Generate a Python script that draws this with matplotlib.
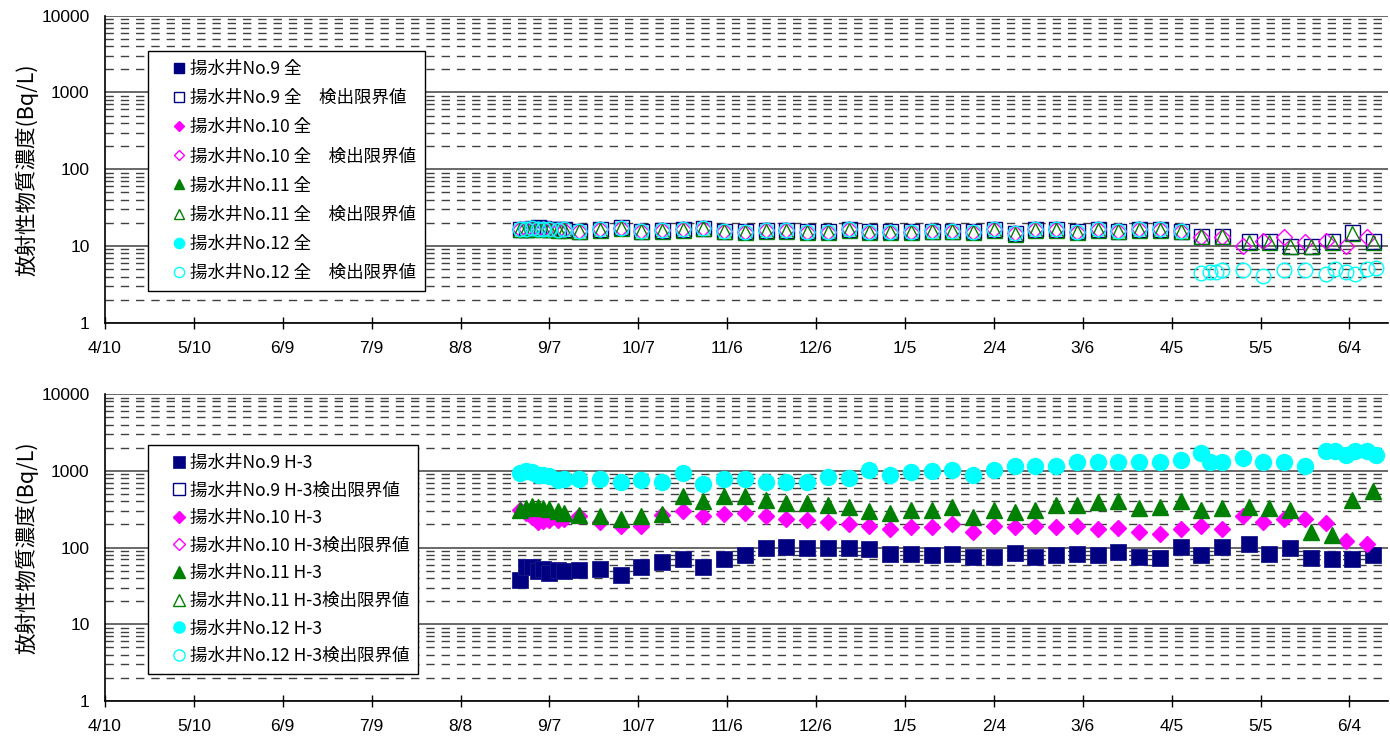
import pandas as pd
import matplotlib.pyplot as plt
from matplotlib.ticker import NullFormatter

plt.rcParams['font.family'] = ['Liberation Sans', 'Noto Sans CJK JP']

# sampling dates shared by all wells up to 4/22
main_dates = ['2013-08-28', '2013-08-30', '2013-09-01', '2013-09-03', '2013-09-05', '2013-09-07',
              '2013-09-10', '2013-09-12', '2013-09-17', '2013-09-24', '2013-10-01', '2013-10-08',
              '2013-10-15', '2013-10-22', '2013-10-29', '2013-11-05', '2013-11-12', '2013-11-19',
              '2013-11-26', '2013-12-03', '2013-12-10', '2013-12-17', '2013-12-24', '2013-12-31',
              '2014-01-07', '2014-01-14', '2014-01-21', '2014-01-28', '2014-02-04', '2014-02-11',
              '2014-02-18', '2014-02-25', '2014-03-04', '2014-03-11', '2014-03-18', '2014-03-25',
              '2014-04-01', '2014-04-08', '2014-04-15', '2014-04-22']
late_dates_9_11 = ['2014-05-01', '2014-05-08', '2014-05-15', '2014-05-22', '2014-05-29', '2014-06-05', '2014-06-12']
late_dates_10 = ['2014-04-29', '2014-05-06', '2014-05-13', '2014-05-20', '2014-05-27', '2014-06-03', '2014-06-10']
late_dates_12_h3 = ['2014-04-18', '2014-04-29', '2014-05-06', '2014-05-13', '2014-05-20', '2014-05-27',
                    '2014-05-30', '2014-06-03', '2014-06-06', '2014-06-10', '2014-06-13']
late_dates_12_gross = ['2014-04-18', '2014-04-20', '2014-04-29', '2014-05-06', '2014-05-13', '2014-05-20',
                       '2014-05-27', '2014-05-30', '2014-06-03', '2014-06-06', '2014-06-10', '2014-06-13']

# 全ベータ 検出限界値 (Bq/L)
no9_gross_dl = [16.8, 16.6, 17.2, 17.5, 17.0, 16.6, 16.6, 16.4,
                15.9, 16.6, 17.8, 15.9, 16.1, 16.6, 17.2, 15.9, 15.6, 16.1, 16.1, 15.6, 15.6, 16.6, 15.6,
                15.6, 15.6, 15.9, 15.9, 15.6, 16.6, 14.8, 16.6, 16.6, 15.6, 16.6, 15.9, 16.6, 16.6, 15.9,
                13.5, 13.5]
no9_gross_dl_late = [11.7, 11.7, 10.0, 10.0, 11.7, 15.0, 11.7]
no10_gross_dl = [16.4, 16.4, 16.6, 16.6, 16.4, 16.4, 16.1, 16.1,
                 15.7, 16.4, 17.2, 15.7, 16.0, 16.4, 16.9, 15.7, 15.4, 16.0, 16.0, 15.4, 15.4, 16.4, 15.4,
                 15.4, 15.4, 15.7, 15.7, 15.4, 16.4, 14.6, 16.4, 16.4, 15.4, 16.4, 15.7, 16.4, 16.4, 15.7,
                 13.2, 13.2]
no10_gross_dl_late = [10.0, 11.7, 12.9, 11.1, 11.7, 10.0, 12.9]
no11_gross_dl = [16.5, 16.4, 16.8, 17.0, 16.7, 16.4, 16.3, 16.2,
                 15.6, 16.3, 17.4, 15.6, 15.9, 16.3, 16.9, 15.6, 15.3, 15.9, 15.9, 15.3, 15.3, 16.3, 15.3,
                 15.3, 15.3, 15.6, 15.6, 15.3, 16.3, 14.5, 16.3, 16.3, 15.3, 16.3, 15.6, 16.3, 16.3, 15.6,
                 13.3, 13.3]
no11_gross_dl_late = [11.4, 11.4, 9.9, 9.9, 11.4, 14.7, 11.4]
no12_gross_dl = [16.6, 16.6, 16.9, 16.6, 16.4, 16.6, 16.1, 16.4,
                 15.7, 16.6, 17.4, 15.7, 16.1, 16.6, 16.9, 15.7, 15.4, 16.1, 16.1, 15.4, 15.4, 16.6, 15.4,
                 15.4, 15.4, 15.7, 15.7, 15.4, 16.6, 14.6, 16.6, 16.6, 15.4, 16.6, 15.7, 16.6, 16.6, 15.7,
                 4.49, 4.8]
no12_gross_dl_late = [4.6, 4.6, 4.8, 4.05, 4.8, 4.8, 4.35, 4.96, 4.6, 4.26, 4.96, 5.1]

# H-3 (Bq/L)
no9_h3 = [38, 56, 55, 50, 52, 47, 51, 49,
          50.7, 52, 44.5, 56, 64, 70, 56, 70, 80, 97.5, 100.6, 100, 97.5, 97.5, 94.5, 82,
          82, 80, 82, 75.7, 74.5, 85.5, 75.7, 80, 82, 80, 88, 74.5, 72, 102, 80, 102]
no9_h3_late = [111, 82, 97.5, 72, 70, 70, 80]
no10_h3 = [310, 280, 250, 218, 222, 228, 229, 232,
           255, 218, 190, 190, 267, 295, 260, 275, 280, 254, 235, 226, 212, 203, 190, 172,
           187, 187, 203, 161, 190, 184, 190, 184, 190, 172, 178, 161, 150, 172, 190, 172]
no10_h3_late = [254, 218, 235, 235, 207, 123, 111]
no11_h3 = [310, 327, 345, 335, 327, 320, 300, 281,
           267, 254, 236, 254, 275, 473, 407, 473, 464, 420, 380, 380, 361, 337, 295, 281,
           304, 304, 337, 249, 304, 286, 304, 361, 361, 387, 399, 327, 337, 399, 304, 327]
no11_h3_late = [337, 327, 310, 158, 146, 411, 539]
no12_h3 = [940, 986, 960, 893, 893, 850, 768, 790,
           784, 784, 707, 768, 707, 940, 681, 784, 784, 707, 707, 707, 834, 809, 1038, 893,
           957, 986, 1038, 893, 1022, 1147, 1147, 1147, 1295, 1295, 1295, 1295, 1295, 1374, 1718, 1295]
no12_h3_late = [1295, 1480, 1295, 1295, 1147, 1806, 1806, 1586, 1806, 1806, 1586]

gross_labels = ['揚水井No.9 全', '揚水井No.9 全　検出限界値', '揚水井No.10 全', '揚水井No.10 全　検出限界値',
                '揚水井No.11 全', '揚水井No.11 全　検出限界値', '揚水井No.12 全', '揚水井No.12 全　検出限界値']
h3_labels = ['揚水井No.9 H-3', '揚水井No.9 H-3検出限界値', '揚水井No.10 H-3', '揚水井No.10 H-3検出限界値',
             '揚水井No.11 H-3', '揚水井No.11 H-3検出限界値', '揚水井No.12 H-3', '揚水井No.12 H-3検出限界値']

tick_dates = ['2013-04-10', '2013-05-10', '2013-06-09', '2013-07-09', '2013-08-08', '2013-09-07',
              '2013-10-07', '2013-11-06', '2013-12-06', '2014-01-05', '2014-02-04', '2014-03-06',
              '2014-04-05', '2014-05-05', '2014-06-04']
tick_labels = ['4/10', '5/10', '6/9', '7/9', '8/8', '9/7', '10/7', '11/6', '12/6',
               '1/5', '2/4', '3/6', '4/5', '5/5', '6/4']
y_ticks = [1, 10, 100, 1000, 10000]
y_labels = ['1', '10', '100', '1000', '10000']

colors = ['#000080', '#FF00FF', '#008000', '#00FFFF']

cjk = ['Noto Sans CJK JP', 'DejaVu Sans']


def d(lst):
    return pd.to_datetime(lst)


def style_axis(ax):
    ax.set_yscale('log')
    ax.set_ylim(1, 10000)
    ax.set_xlim(pd.Timestamp('2013-04-10'), pd.Timestamp('2014-06-17'))
    ax.set_yticks(y_ticks)
    ax.set_yticklabels(y_labels)
    minor = [m * 10 ** e for e in range(4) for m in range(2, 10)]
    ax.set_yticks(minor, minor=True)
    ax.yaxis.set_minor_formatter(NullFormatter())
    ax.grid(axis='y', which='major', color='#404040', lw=1.1, ls='-')
    ax.grid(axis='y', which='minor', color='#404040', lw=1.0, ls=(0, (6, 5)))
    ax.set_axisbelow(True)
    ax.tick_params(axis='y', which='both', length=0, pad=11, labelsize=12.5)
    ax.set_xticks(d(tick_dates))
    ax.set_xticklabels(tick_labels)
    ax.tick_params(axis='x', direction='inout', length=8, width=1, pad=9, labelsize=12.5)
    for s in ['top', 'right']:
        ax.spines[s].set_visible(False)
    for s in ['left', 'bottom']:
        ax.spines[s].set_linewidth(1.2)
    ax.set_ylabel('放射性物質濃度(Bq/L)', fontfamily=cjk, fontsize=15.5)
    ax.yaxis.set_label_coords(-0.052, 0.5)


def add_legend(ax, y, spacing):
    leg = ax.legend(loc='upper left', bbox_to_anchor=(0.0335, y), borderaxespad=0,
                    prop={'family': cjk, 'size': 12.6}, frameon=True, fancybox=False,
                    edgecolor='black', framealpha=1, borderpad=0.5, handlelength=2.5,
                    handletextpad=-0.6, labelspacing=spacing, markerscale=0.7, numpoints=1)
    leg.get_frame().set_linewidth(1.0)


fig = plt.figure(figsize=(13.9, 7.37), dpi=100)
ax1 = fig.add_axes([0.0755, 0.5621, 0.923, 0.4166])
ax2 = fig.add_axes([0.0755, 0.0488, 0.923, 0.4166])

# top: gross beta (only detection limits are plotted)
ax1.plot([], [], ls='none', marker='s', ms=10.8, color=colors[0], label=gross_labels[0])
ax1.plot(d(main_dates + late_dates_9_11), no9_gross_dl + no9_gross_dl_late, ls='none', marker='s',
         ms=10.8, mfc='none', mec=colors[0], mew=1, label=gross_labels[1])
ax1.plot([], [], ls='none', marker='D', ms=7.8, color=colors[1], label=gross_labels[2])
ax1.plot(d(main_dates + late_dates_10), no10_gross_dl + no10_gross_dl_late, ls='none', marker='D',
         ms=7.8, mfc='none', mec=colors[1], mew=1, label=gross_labels[3])
ax1.plot([], [], ls='none', marker='^', ms=10.8, color=colors[2], label=gross_labels[4])
ax1.plot(d(main_dates + late_dates_9_11), no11_gross_dl + no11_gross_dl_late, ls='none', marker='^',
         ms=10.8, mfc='none', mec=colors[2], mew=1, label=gross_labels[5])
ax1.plot([], [], ls='none', marker='o', ms=10.5, color=colors[3], label=gross_labels[6])
ax1.plot(d(main_dates + late_dates_12_gross), no12_gross_dl + no12_gross_dl_late, ls='none', marker='o',
         ms=10.5, mfc='none', mec=colors[3], mew=1, label=gross_labels[7])
style_axis(ax1)
add_legend(ax1, 0.885, 0.64)

# bottom: H-3
ax2.plot(d(main_dates + late_dates_9_11), no9_h3 + no9_h3_late, ls='none', marker='s', ms=11.8,
         color=colors[0], mec='#1a1a8c', mew=0.6, label=h3_labels[0])
ax2.plot([], [], ls='none', marker='s', ms=11.8, mfc='none', mec=colors[0], mew=1, label=h3_labels[1])
ax2.plot(d(main_dates + late_dates_10), no10_h3 + no10_h3_late, ls='none', marker='D', ms=8.6,
         color=colors[1], label=h3_labels[2])
ax2.plot([], [], ls='none', marker='D', ms=8.6, mfc='none', mec=colors[1], mew=1, label=h3_labels[3])
ax2.plot(d(main_dates + late_dates_9_11), no11_h3 + no11_h3_late, ls='none', marker='^', ms=12,
         color=colors[2], label=h3_labels[4])
ax2.plot([], [], ls='none', marker='^', ms=12, mfc='none', mec=colors[2], mew=1, label=h3_labels[5])
ax2.plot(d(main_dates + late_dates_12_h3), no12_h3 + no12_h3_late, ls='none', marker='o', ms=11.5,
         color=colors[3], label=h3_labels[6])
ax2.plot([], [], ls='none', marker='o', ms=11.5, mfc='none', mec=colors[3], mew=1, label=h3_labels[7])
style_axis(ax2)
add_legend(ax2, 0.834, 0.55)

fig.savefig('out.png', dpi=100)
